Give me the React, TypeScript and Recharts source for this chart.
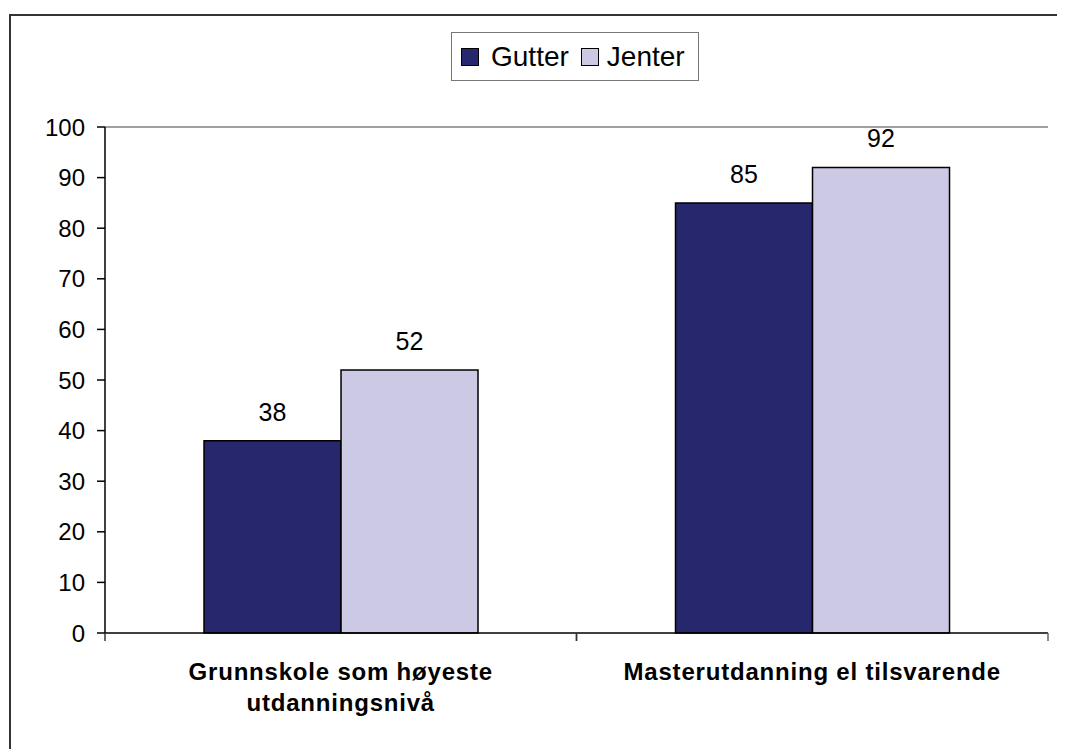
import { BarChart, Bar, XAxis, YAxis, ReferenceLine, LabelList } from 'recharts';

const categories = ['Grunnskole som høyeste\nutdanningsnivå', 'Masterutdanning el tilsvarende'];
const gutter = [38, 85];
const jenter = [52, 92];
const yTicks = [0, 10, 20, 30, 40, 50, 60, 70, 80, 90, 100];

const series = [
  { key: 'gutter', name: 'Gutter', color: '#27276E' },
  { key: 'jenter', name: 'Jenter', color: '#CBC9E4' },
];

const data = categories.map((c, i) => ({ name: c, gutter: gutter[i], jenter: jenter[i] }));

const W = 1057;
const H = 741;
const margin = { top: 119, right: 17, left: 37, bottom: 36 };
const yAxisWidth = 60;
const plotWidth = W - margin.left - margin.right - yAxisWidth;
const halfBand = plotWidth / categories.length / 2;

const font = '"Liberation Sans", Arial, sans-serif';

// kategori-etikett med linjeskift + skillestreker mellom kategoriene
function CategoryTick(props: any) {
  const { x, y, payload } = props;
  const lines = String(payload.value).split('\n');
  return (
    <g>
      <line x1={x - halfBand} x2={x - halfBand} y1={y - 8} y2={y} stroke="#333" strokeWidth={1.5} />
      <line x1={x + halfBand} x2={x + halfBand} y1={y - 8} y2={y} stroke="#666" strokeWidth={1.5} />
      {lines.map((l, i) => (
        <text
          key={i}
          x={x}
          y={y + 39 + i * 31}
          textAnchor="middle"
          fontFamily={font}
          fontWeight="bold"
          fontSize={24}
          letterSpacing={0.8}
          fill="#000"
        >
          {l}
        </text>
      ))}
    </g>
  );
}

export default function App() {
  return (
    <div style={{ position: 'relative', width: W, height: H, overflow: 'hidden', background: '#fff' }}>
      <style>{'html,body{overflow:hidden}'}</style>
      <div
        style={{
          position: 'absolute',
          left: 1,
          top: 6,
          width: 1200,
          height: 900,
          borderTop: '2px solid #333',
          borderLeft: '2px solid #333',
        }}
      />
      <div
        style={{
          position: 'absolute',
          left: 443,
          top: 24,
          width: 248,
          height: 49,
          boxSizing: 'border-box',
          border: '1.5px solid #777',
          display: 'flex',
          alignItems: 'center',
          paddingLeft: 9,
          fontFamily: font,
          fontSize: 28,
          color: '#000',
          background: '#fff',
          zIndex: 2,
        }}
      >
        {series.map((s, i) => (
          <div key={s.key} style={{ display: 'flex', alignItems: 'center', marginLeft: i ? 12 : 0 }}>
            <span
              style={{
                display: 'inline-block',
                width: 18,
                height: 18,
                boxSizing: 'border-box',
                border: '1.5px solid #000',
                background: s.color,
                marginRight: i ? 8 : 12,
              }}
            />
            <span>{s.name}</span>
          </div>
        ))}
      </div>
      <div style={{ position: 'absolute', left: 0, top: 0 }}>
        <BarChart width={W} height={H} data={data} margin={margin} barCategoryGap="21%" barGap={0}>
          <XAxis
            dataKey="name"
            height={80}
            axisLine={{ stroke: '#000', strokeWidth: 1.5 }}
            tickLine={false}
            tickSize={8}
            tickMargin={0}
            tick={<CategoryTick />}
            interval={0}
          />
          <YAxis
            yAxisId="left"
            width={yAxisWidth}
            domain={[0, 100]}
            ticks={yTicks}
            interval={0}
            axisLine={{ stroke: '#000', strokeWidth: 1.5 }}
            tickLine={{ stroke: '#000', strokeWidth: 1.5 }}
            tickSize={8}
            tickMargin={12}
            tick={{ fontFamily: font, fontSize: 24, fill: '#000' }}
          />
          <YAxis
            yAxisId="right"
            orientation="right"
            width={0}
            domain={[0, 100]}
            tick={false}
            tickLine={false}
            axisLine={{ stroke: '#808080', strokeWidth: 1.5 }}
          />
          <ReferenceLine yAxisId="left" y={100} stroke="#808080" strokeWidth={1.5} />
          {series.map((s) => (
            <Bar
              key={s.key}
              yAxisId="left"
              dataKey={s.key}
              name={s.name}
              fill={s.color}
              stroke="#000"
              strokeWidth={1.5}
              isAnimationActive={false}
            >
              <LabelList
                dataKey={s.key}
                position="top"
                offset={20}
                fontFamily={font}
                fontSize={25}
                fill="#000"
              />
            </Bar>
          ))}
        </BarChart>
      </div>
    </div>
  );
}
